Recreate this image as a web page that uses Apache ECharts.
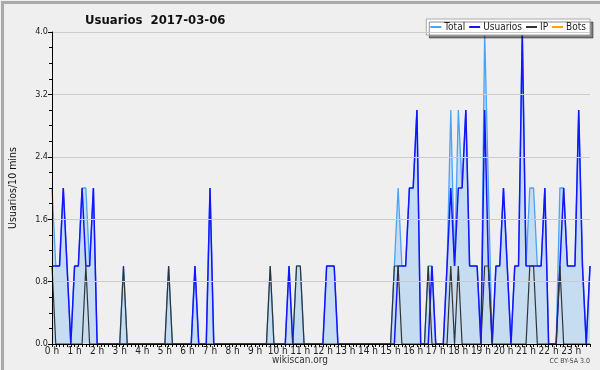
<!DOCTYPE html>
<html>
<head>
<meta charset="utf-8">
<script src="https://cdn.jsdelivr.net/npm/echarts@6/dist/echarts.min.js"></script>
<style>
  html, body { margin: 0; padding: 0; background: #efefef; }
  #main { width: 600px; height: 370px; }
</style>
</head>
<body>
<div id="main"></div>
<script>
// one point per 10 minutes, 12 values per row = 2 hours
var total = [
  2,1,1,2,1,0,1,1,2,2,1,2,
  0,0,0,0,0,0,0,1,0,0,0,0,
  0,0,0,0,0,0,0,1,0,0,0,0,
  0,0,1,0,0,0,2,0,0,0,0,0,
  0,0,0,0,0,0,0,0,0,0,1,0,
  0,0,0,1,0,1,1,0,0,0,0,0,
  0,1,1,1,0,0,0,0,0,0,0,0,
  0,0,0,0,0,0,0,1,2,1,1,2,
  2,3,0,0,1,1,0,0,0,1,3,1,
  3,2,3,1,1,1,0,4,2,0,1,1,
  2,1,0,1,1,4,1,2,2,1,1,2,
  0,0,0,2,2,1,1,1,3,1,0,1
];
var usuarios = [
  1,1,1,2,1,0,1,1,2,1,1,2,
  0,0,0,0,0,0,0,0,0,0,0,0,
  0,0,0,0,0,0,0,0,0,0,0,0,
  0,0,1,0,0,0,2,0,0,0,0,0,
  0,0,0,0,0,0,0,0,0,0,0,0,
  0,0,0,1,0,0,0,0,0,0,0,0,
  0,1,1,1,0,0,0,0,0,0,0,0,
  0,0,0,0,0,0,0,0,1,1,1,2,
  2,3,0,0,0,1,0,0,0,1,2,1,
  2,2,3,1,1,1,0,3,1,0,1,1,
  2,1,0,1,1,4,1,1,1,1,1,2,
  0,0,0,1,2,1,1,1,3,1,0,1
];
var ip = [
  1,0,0,0,0,0,0,0,0,1,0,0,
  0,0,0,0,0,0,0,1,0,0,0,0,
  0,0,0,0,0,0,0,1,0,0,0,0,
  0,0,0,0,0,0,0,0,0,0,0,0,
  0,0,0,0,0,0,0,0,0,0,1,0,
  0,0,0,0,0,1,1,0,0,0,0,0,
  0,0,0,0,0,0,0,0,0,0,0,0,
  0,0,0,0,0,0,0,1,1,0,0,0,
  0,0,0,0,1,0,0,0,0,0,1,0,
  1,0,0,0,0,0,0,1,1,0,0,0,
  0,0,0,0,0,0,0,1,1,0,0,0,
  0,0,0,1,0,0,0,0,0,0,0,0
];
var bots = [
  0,0,0,0,0,0,0,0,0,0,0,0,
  0,0,0,0,0,0,0,0,0,0,0,0,
  0,0,0,0,0,0,0,0,0,0,0,0,
  0,0,0,0,0,0,0,0,0,0,0,0,
  0,0,0,0,0,0,0,0,0,0,0,0,
  0,0,0,0,0,0,0,0,0,0,0,0,
  0,0,0,0,0,0,0,0,0,0,0,0,
  0,0,0,0,0,0,0,0,0,0,0,0,
  0,0,0,0,0,0,0,0,0,0,0,0,
  0,0,0,0,0,0,0,0,0,0,0,0,
  0,0,0,0,0,0,0,0,0,0,0,0,
  0,0,0,0,0,0,0,0,0,0,0,0
];
var hourLabels = ['0 h','1 h','2 h','3 h','4 h','5 h','6 h','7 h','8 h','9 h','10 h','11 h',
  '12 h','13 h','14 h','15 h','16 h','17 h','18 h','19 h','20 h','21 h','22 h','23 h'];
var yTicks = [0, 0.8, 1.6, 2.4, 3.2, 4.0];

var categories = [];
for (var i = 0; i < total.length; i++) {
  categories.push(i % 6 === 0 ? hourLabels[i / 6] : '');
}

var font = "'DejaVu Sans Condensed', 'DejaVu Sans', sans-serif";
var chart = echarts.init(document.getElementById('main'));

var option = {
  animation: false,
  backgroundColor: '#efefef',
  textStyle: { fontFamily: font },
  title: {
    text: 'Usuarios  2017-03-06',
    left: 80, top: 9,
    textStyle: { fontSize: 13, fontWeight: 'bold', color: '#111', fontFamily: font }
  },
  legend: {
    right: 10, top: 19,
    width: 240,
    padding: [3, 4, 3, 4],
    itemGap: 4,
    itemWidth: 11, itemHeight: 2,
    icon: 'rect',
    backgroundColor: '#fff',
    borderColor: '#aaa', borderWidth: 1,
    shadowColor: 'rgba(0,0,0,0.45)', shadowOffsetX: 3, shadowOffsetY: 3, shadowBlur: 0,
    textStyle: { fontSize: 10, color: '#222', fontFamily: font, padding: [0, 0, 0, -2] },
    data: ['Total', 'Usuarios', 'IP', 'Bots']
  },
  grid: { left: 44, right: 10, top: 32, bottom: 26 },
  xAxis: {
    type: 'category',
    data: categories,
    boundaryGap: false,
    z: 10,
    axisLine: { lineStyle: { color: '#000', width: 1 } },
    axisTick: { show: true, interval: 0, length: 3, lineStyle: { color: '#000' } },
    axisLabel: {
      interval: 0, margin: 2, fontSize: 10, color: '#222', fontFamily: font
    },
    splitLine: { show: false }
  },
  yAxis: {
    type: 'value',
    min: yTicks[0], max: yTicks[yTicks.length - 1], interval: 0.8,
    name: 'Usuarios/10 mins',
    nameLocation: 'middle',
    nameGap: 33,
    nameTextStyle: { fontSize: 10.5, color: '#111', fontFamily: font },
    z: 10,
    axisLine: { show: true, lineStyle: { color: '#000', width: 1 } },
    axisTick: { show: true, length: 4, lineStyle: { color: '#000' } },
    minorTick: { show: true, splitNumber: 4, length: 3, lineStyle: { color: '#000' } },
    axisLabel: {
      margin: 4, fontSize: 9, color: '#222', fontFamily: font,
      formatter: function (v) { return v.toFixed(1); }
    },
    splitLine: { show: true, lineStyle: { color: '#cccccc', width: 1 } }
  },
  graphic: [
    { type: 'rect', left: 0, top: 0, z: 100, silent: true,
      shape: { x: 0, y: 0, width: 600, height: 370 },
      style: { fill: 'none', stroke: '#aaaaaa', lineWidth: 3 } },
    { type: 'text', left: 'center', top: 355,
      style: { text: 'wikiscan.org', fontSize: 10, fill: '#333', fontFamily: font } },
    { type: 'text', right: 10, top: 358,
      style: { text: 'CC BY-SA 3.0', fontSize: 7, fill: '#444', fontFamily: font } }
  ],
  series: [
    {
      name: 'Total', type: 'line', data: total, showSymbol: false, symbol: 'none',
      itemStyle: { color: '#4aa3f5' },
      lineStyle: { color: '#4aa3f5', width: 1.3 },
      areaStyle: { color: '#c6dcf0', opacity: 1 },
      z: 2
    },
    {
      name: 'Usuarios', type: 'line', data: usuarios, showSymbol: false, symbol: 'none',
      itemStyle: { color: '#1414ff' },
      lineStyle: { color: '#1414ff', width: 1.5 },
      z: 3
    },
    {
      name: 'IP', type: 'line', data: ip, showSymbol: false, symbol: 'none',
      itemStyle: { color: '#333333' },
      lineStyle: { color: '#333333', width: 1.2 },
      z: 4
    },
    {
      name: 'Bots', type: 'line', data: bots, showSymbol: false, symbol: 'none',
      itemStyle: { color: '#ffa500' },
      lineStyle: { color: '#ffa500', width: 1 },
      z: 1
    }
  ]
};

chart.setOption(option);
</script>
</body>
</html>
